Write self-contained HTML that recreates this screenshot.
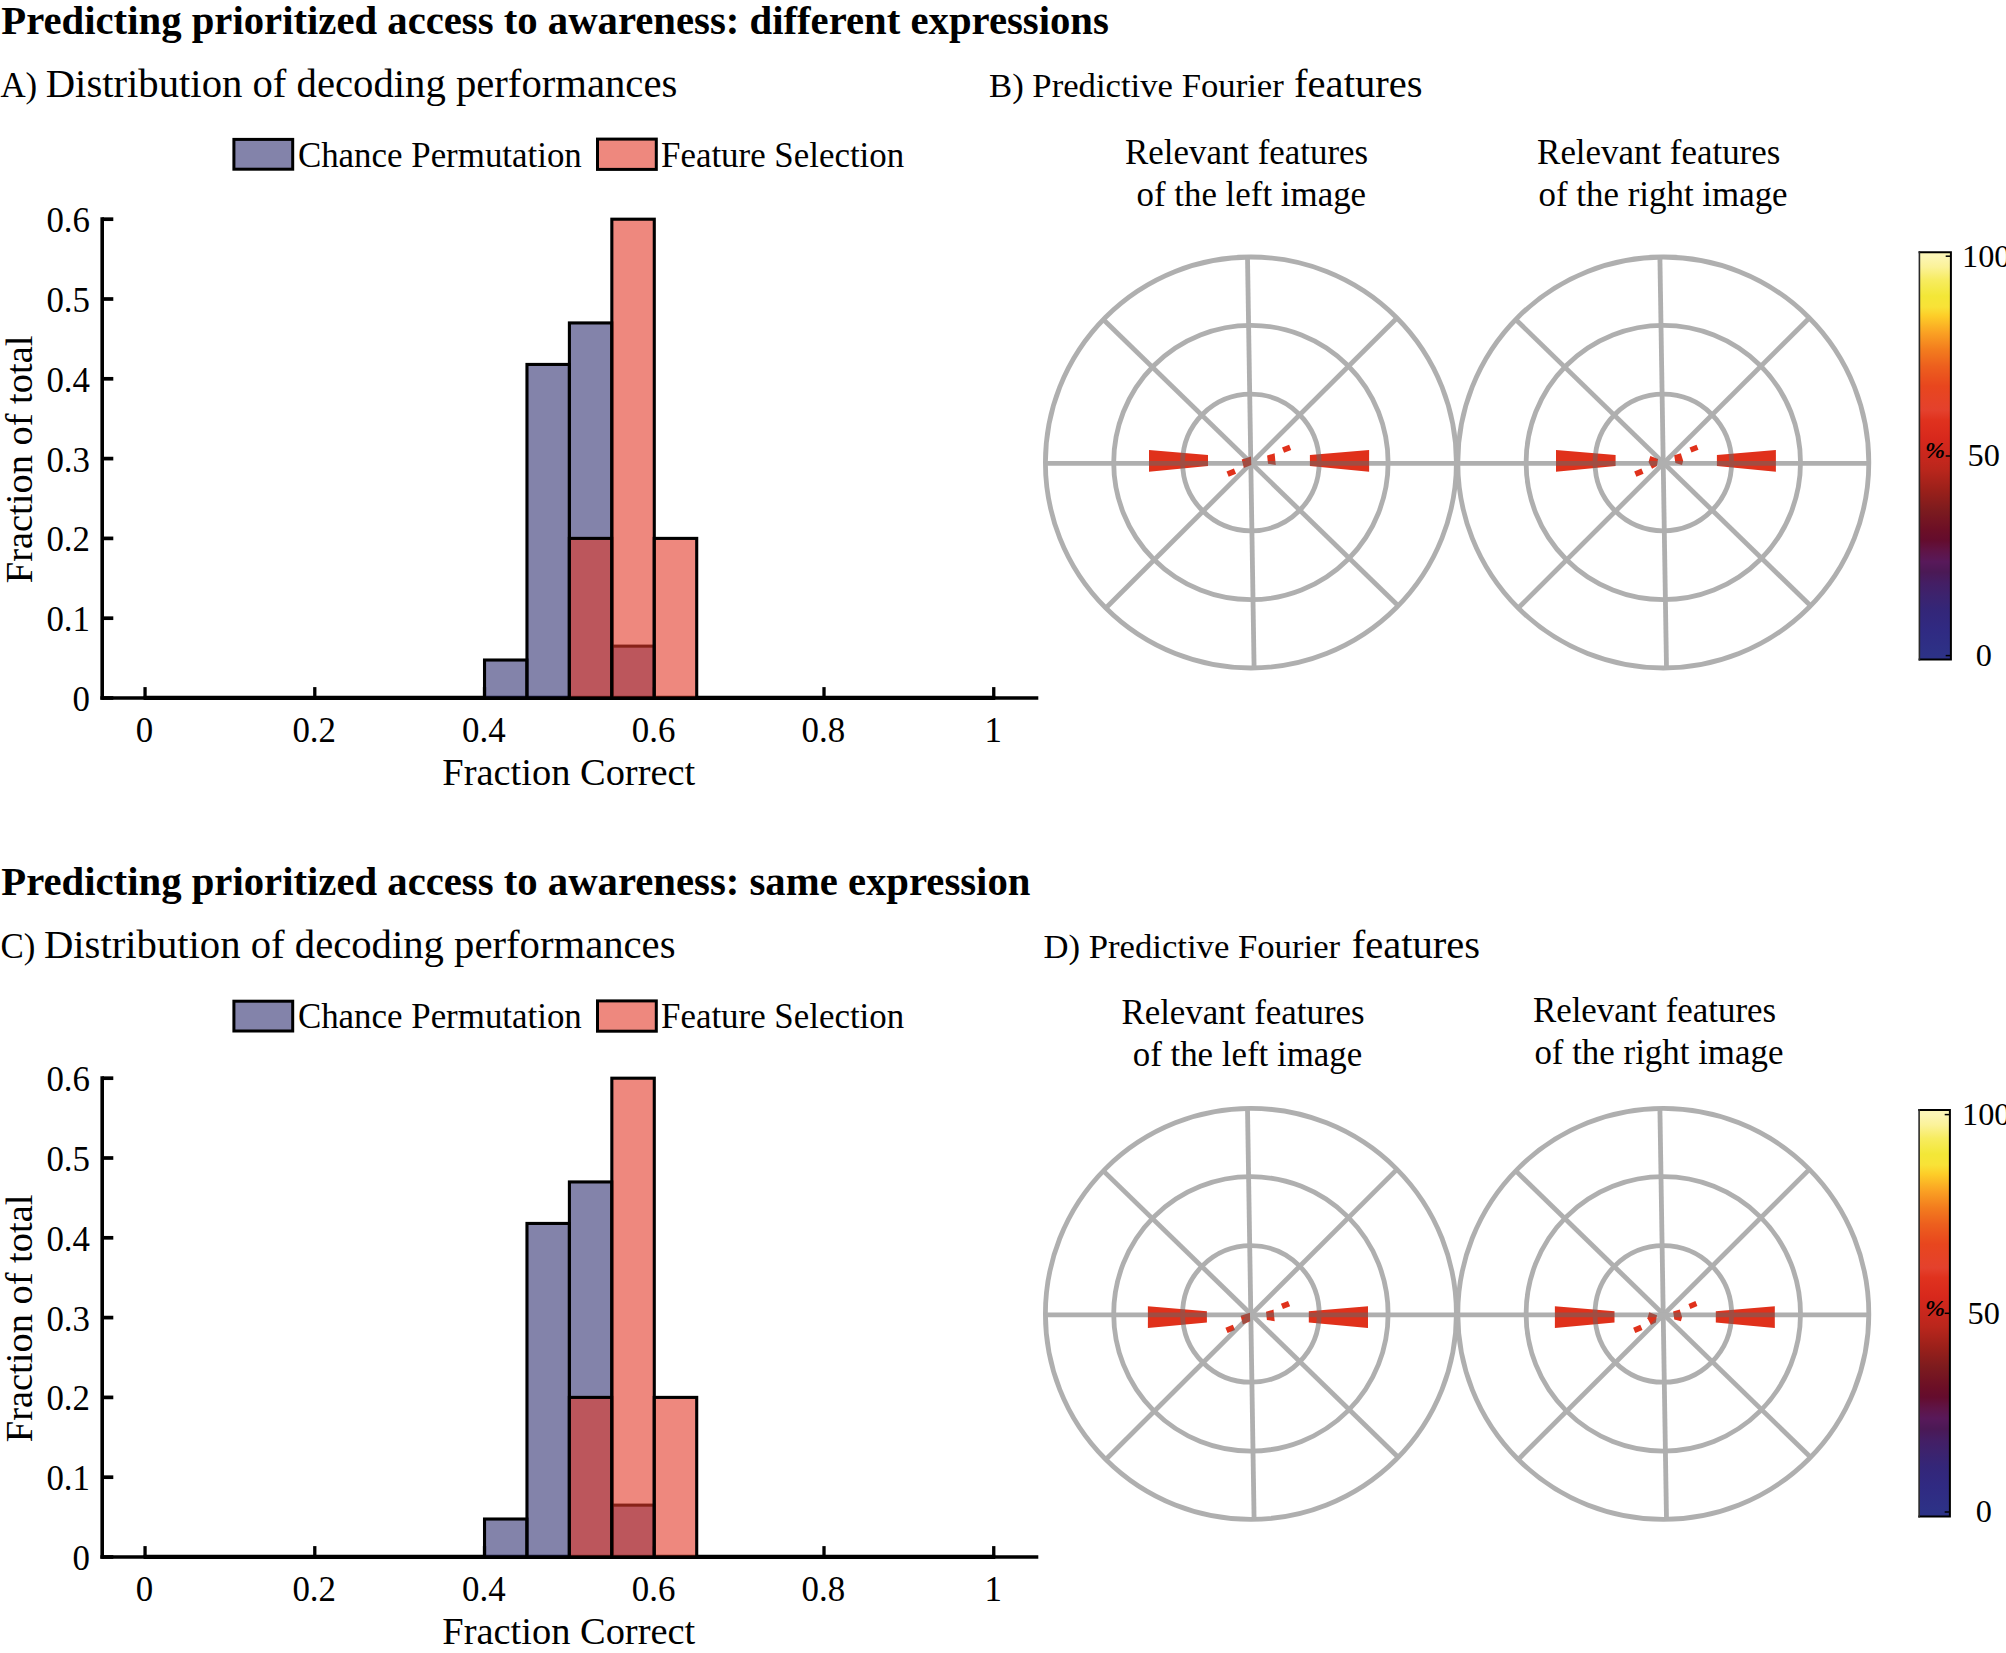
<!DOCTYPE html>
<html lang="en"><head><meta charset="utf-8"><title>Predicting prioritized access to awareness</title>
<style>html,body{margin:0;padding:0;background:#fff}body{width:2006px;height:1653px;overflow:hidden}svg text{white-space:pre}</style></head>
<body>
<svg width="2006" height="1653" viewBox="0 0 2006 1653" style="display:block;font-family:'Liberation Serif','DejaVu Serif',serif">
<rect width="2006" height="1653" fill="#fff"/>
<g style="font-family:'Liberation Serif','DejaVu Serif',serif" fill="#000">
<text x="1.30" y="34.40" font-size="40.73" text-anchor="start" font-weight="bold" font-style="normal" >Predicting prioritized access to awareness: different expressions</text>
<text x="0.40" y="97.20" font-size="34.9" text-anchor="start" font-weight="normal" font-style="normal" >A)</text>
<text x="45.70" y="97.20" font-size="40.7" text-anchor="start" font-weight="normal" font-style="normal" >Distribution of decoding performances</text>
<text x="989.00" y="96.80" font-size="34.7" text-anchor="start" font-weight="normal" font-style="normal" >B) Predictive Fourier</text>
<text x="1294.10" y="96.80" font-size="40.6" text-anchor="start" font-weight="normal" font-style="normal" >features</text>
<text x="1246.60" y="163.50" font-size="34.9" text-anchor="middle" font-weight="normal" font-style="normal" >Relevant features</text>
<text x="1251.30" y="205.80" font-size="34.9" text-anchor="middle" font-weight="normal" font-style="normal" >of the left image</text>
<text x="1658.70" y="163.50" font-size="34.9" text-anchor="middle" font-weight="normal" font-style="normal" >Relevant features</text>
<text x="1663.10" y="205.80" font-size="34.9" text-anchor="middle" font-weight="normal" font-style="normal" >of the right image</text>
<text x="1.30" y="895.30" font-size="40.73" text-anchor="start" font-weight="bold" font-style="normal" >Predicting prioritized access to awareness: same expression</text>
<text x="0.40" y="957.90" font-size="34.9" text-anchor="start" font-weight="normal" font-style="normal" >C)</text>
<text x="43.90" y="957.90" font-size="40.7" text-anchor="start" font-weight="normal" font-style="normal" >Distribution of decoding performances</text>
<text x="1043.40" y="957.80" font-size="34.7" text-anchor="start" font-weight="normal" font-style="normal" >D) Predictive Fourier</text>
<text x="1351.70" y="957.80" font-size="40.6" text-anchor="start" font-weight="normal" font-style="normal" >features</text>
<text x="1243.00" y="1024.20" font-size="34.9" text-anchor="middle" font-weight="normal" font-style="normal" >Relevant features</text>
<text x="1247.50" y="1065.80" font-size="34.9" text-anchor="middle" font-weight="normal" font-style="normal" >of the left image</text>
<text x="1654.50" y="1022.40" font-size="34.9" text-anchor="middle" font-weight="normal" font-style="normal" >Relevant features</text>
<text x="1658.90" y="1064.00" font-size="34.9" text-anchor="middle" font-weight="normal" font-style="normal" >of the right image</text>
</g>
<g stroke="#000" fill="none" stroke-linecap="butt">
<line x1="102.2" y1="217.30" x2="102.2" y2="699.80" stroke-width="3.6"/>
<line x1="100.4" y1="698.10" x2="1038.3" y2="698.10" stroke-width="3.5"/>
<line x1="102.2" y1="698.00" x2="113.3" y2="698.00" stroke-width="3.7"/>
<line x1="102.2" y1="618.20" x2="113.3" y2="618.20" stroke-width="3.7"/>
<line x1="102.2" y1="538.40" x2="113.3" y2="538.40" stroke-width="3.7"/>
<line x1="102.2" y1="458.60" x2="113.3" y2="458.60" stroke-width="3.7"/>
<line x1="102.2" y1="378.80" x2="113.3" y2="378.80" stroke-width="3.7"/>
<line x1="102.2" y1="299.00" x2="113.3" y2="299.00" stroke-width="3.7"/>
<line x1="102.2" y1="219.20" x2="113.3" y2="219.20" stroke-width="3.7"/>
<line x1="145.05" y1="698.00" x2="145.05" y2="687.10" stroke-width="3.3"/>
<line x1="314.79" y1="698.00" x2="314.79" y2="687.10" stroke-width="3.3"/>
<line x1="484.53" y1="698.00" x2="484.53" y2="687.10" stroke-width="3.3"/>
<line x1="654.27" y1="698.00" x2="654.27" y2="687.10" stroke-width="3.3"/>
<line x1="824.01" y1="698.00" x2="824.01" y2="687.10" stroke-width="3.3"/>
<line x1="993.75" y1="698.00" x2="993.75" y2="687.10" stroke-width="3.3"/>
</g>
<line x1="143.55" y1="697.85" x2="995.25" y2="697.85" stroke="#000" stroke-width="4.4"/>
<g stroke="#000" stroke-width="3.1" stroke-linejoin="miter">
<rect x="484.53" y="660.02" width="42.44" height="37.98" fill="rgb(48,48,113)" fill-opacity="0.6"/>
<rect x="526.97" y="364.44" width="42.44" height="333.56" fill="rgb(48,48,113)" fill-opacity="0.6"/>
<rect x="569.40" y="322.94" width="42.44" height="375.06" fill="rgb(48,48,113)" fill-opacity="0.6"/>
<rect x="611.84" y="646.13" width="42.44" height="51.87" fill="rgb(48,48,113)" fill-opacity="0.6"/>
</g>
<g opacity="1">
<rect x="569.40" y="538.40" width="42.44" height="159.60" fill="rgb(227,57,40)" fill-opacity="0.6" stroke="#000" stroke-width="3.1"/>
<rect x="611.84" y="219.20" width="42.44" height="478.80" fill="rgb(227,57,40)" fill-opacity="0.6" stroke="#000" stroke-width="3.1"/>
<rect x="654.27" y="538.40" width="42.44" height="159.60" fill="rgb(227,57,40)" fill-opacity="0.6" stroke="#000" stroke-width="3.1"/>
</g>
<g style="font-family:'Liberation Serif','DejaVu Serif',serif" fill="#000">
<text x="90.00" y="711.00" font-size="34.9" text-anchor="end" font-weight="normal" font-style="normal" >0</text>
<text x="90.00" y="631.20" font-size="34.9" text-anchor="end" font-weight="normal" font-style="normal" >0.1</text>
<text x="90.00" y="551.40" font-size="34.9" text-anchor="end" font-weight="normal" font-style="normal" >0.2</text>
<text x="90.00" y="471.60" font-size="34.9" text-anchor="end" font-weight="normal" font-style="normal" >0.3</text>
<text x="90.00" y="391.80" font-size="34.9" text-anchor="end" font-weight="normal" font-style="normal" >0.4</text>
<text x="90.00" y="312.00" font-size="34.9" text-anchor="end" font-weight="normal" font-style="normal" >0.5</text>
<text x="90.00" y="232.20" font-size="34.9" text-anchor="end" font-weight="normal" font-style="normal" >0.6</text>
<text x="144.45" y="741.50" font-size="34.9" text-anchor="middle" font-weight="normal" font-style="normal" >0</text>
<text x="314.19" y="741.50" font-size="34.9" text-anchor="middle" font-weight="normal" font-style="normal" >0.2</text>
<text x="483.93" y="741.50" font-size="34.9" text-anchor="middle" font-weight="normal" font-style="normal" >0.4</text>
<text x="653.67" y="741.50" font-size="34.9" text-anchor="middle" font-weight="normal" font-style="normal" >0.6</text>
<text x="823.41" y="741.50" font-size="34.9" text-anchor="middle" font-weight="normal" font-style="normal" >0.8</text>
<text x="993.15" y="741.50" font-size="34.9" text-anchor="middle" font-weight="normal" font-style="normal" >1</text>
<text x="568.80" y="784.90" font-size="38.45" text-anchor="middle" font-weight="normal" font-style="normal" >Fraction Correct</text>
<text transform="translate(31.9,459.40) rotate(-90)" font-size="38.45" text-anchor="middle">Fraction of total</text>
<rect x="233.9" y="139.40" width="58.8" height="29.8" fill="rgb(131,131,170)" stroke="#000" stroke-width="3"/>
<rect x="597.5" y="139.10" width="58.8" height="30.3" fill="rgb(238,136,126)" stroke="#000" stroke-width="3"/>
<text x="297.90" y="167.30" font-size="34.9" text-anchor="start" font-weight="normal" font-style="normal" >Chance Permutation</text>
<text x="661.00" y="167.30" font-size="34.9" text-anchor="start" font-weight="normal" font-style="normal" >Feature Selection</text>
</g>
<g stroke="#000" fill="none" stroke-linecap="butt">
<line x1="102.2" y1="1076.30" x2="102.2" y2="1558.80" stroke-width="3.6"/>
<line x1="100.4" y1="1557.10" x2="1038.3" y2="1557.10" stroke-width="3.5"/>
<line x1="102.2" y1="1557.00" x2="113.3" y2="1557.00" stroke-width="3.7"/>
<line x1="102.2" y1="1477.20" x2="113.3" y2="1477.20" stroke-width="3.7"/>
<line x1="102.2" y1="1397.40" x2="113.3" y2="1397.40" stroke-width="3.7"/>
<line x1="102.2" y1="1317.60" x2="113.3" y2="1317.60" stroke-width="3.7"/>
<line x1="102.2" y1="1237.80" x2="113.3" y2="1237.80" stroke-width="3.7"/>
<line x1="102.2" y1="1158.00" x2="113.3" y2="1158.00" stroke-width="3.7"/>
<line x1="102.2" y1="1078.20" x2="113.3" y2="1078.20" stroke-width="3.7"/>
<line x1="145.05" y1="1557.00" x2="145.05" y2="1546.10" stroke-width="3.3"/>
<line x1="314.79" y1="1557.00" x2="314.79" y2="1546.10" stroke-width="3.3"/>
<line x1="484.53" y1="1557.00" x2="484.53" y2="1546.10" stroke-width="3.3"/>
<line x1="654.27" y1="1557.00" x2="654.27" y2="1546.10" stroke-width="3.3"/>
<line x1="824.01" y1="1557.00" x2="824.01" y2="1546.10" stroke-width="3.3"/>
<line x1="993.75" y1="1557.00" x2="993.75" y2="1546.10" stroke-width="3.3"/>
</g>
<line x1="143.55" y1="1556.85" x2="995.25" y2="1556.85" stroke="#000" stroke-width="4.4"/>
<g stroke="#000" stroke-width="3.1" stroke-linejoin="miter">
<rect x="484.53" y="1519.02" width="42.44" height="37.98" fill="rgb(48,48,113)" fill-opacity="0.6"/>
<rect x="526.97" y="1223.44" width="42.44" height="333.56" fill="rgb(48,48,113)" fill-opacity="0.6"/>
<rect x="569.40" y="1181.94" width="42.44" height="375.06" fill="rgb(48,48,113)" fill-opacity="0.6"/>
<rect x="611.84" y="1505.13" width="42.44" height="51.87" fill="rgb(48,48,113)" fill-opacity="0.6"/>
</g>
<g opacity="1">
<rect x="569.40" y="1397.40" width="42.44" height="159.60" fill="rgb(227,57,40)" fill-opacity="0.6" stroke="#000" stroke-width="3.1"/>
<rect x="611.84" y="1078.20" width="42.44" height="478.80" fill="rgb(227,57,40)" fill-opacity="0.6" stroke="#000" stroke-width="3.1"/>
<rect x="654.27" y="1397.40" width="42.44" height="159.60" fill="rgb(227,57,40)" fill-opacity="0.6" stroke="#000" stroke-width="3.1"/>
</g>
<g style="font-family:'Liberation Serif','DejaVu Serif',serif" fill="#000">
<text x="90.00" y="1570.00" font-size="34.9" text-anchor="end" font-weight="normal" font-style="normal" >0</text>
<text x="90.00" y="1490.20" font-size="34.9" text-anchor="end" font-weight="normal" font-style="normal" >0.1</text>
<text x="90.00" y="1410.40" font-size="34.9" text-anchor="end" font-weight="normal" font-style="normal" >0.2</text>
<text x="90.00" y="1330.60" font-size="34.9" text-anchor="end" font-weight="normal" font-style="normal" >0.3</text>
<text x="90.00" y="1250.80" font-size="34.9" text-anchor="end" font-weight="normal" font-style="normal" >0.4</text>
<text x="90.00" y="1171.00" font-size="34.9" text-anchor="end" font-weight="normal" font-style="normal" >0.5</text>
<text x="90.00" y="1091.20" font-size="34.9" text-anchor="end" font-weight="normal" font-style="normal" >0.6</text>
<text x="144.45" y="1600.50" font-size="34.9" text-anchor="middle" font-weight="normal" font-style="normal" >0</text>
<text x="314.19" y="1600.50" font-size="34.9" text-anchor="middle" font-weight="normal" font-style="normal" >0.2</text>
<text x="483.93" y="1600.50" font-size="34.9" text-anchor="middle" font-weight="normal" font-style="normal" >0.4</text>
<text x="653.67" y="1600.50" font-size="34.9" text-anchor="middle" font-weight="normal" font-style="normal" >0.6</text>
<text x="823.41" y="1600.50" font-size="34.9" text-anchor="middle" font-weight="normal" font-style="normal" >0.8</text>
<text x="993.15" y="1600.50" font-size="34.9" text-anchor="middle" font-weight="normal" font-style="normal" >1</text>
<text x="568.80" y="1643.90" font-size="38.45" text-anchor="middle" font-weight="normal" font-style="normal" >Fraction Correct</text>
<text transform="translate(31.9,1318.40) rotate(-90)" font-size="38.45" text-anchor="middle">Fraction of total</text>
<rect x="233.9" y="1001.20" width="58.8" height="29.8" fill="rgb(131,131,170)" stroke="#000" stroke-width="3"/>
<rect x="597.5" y="1000.90" width="58.8" height="30.3" fill="rgb(238,136,126)" stroke="#000" stroke-width="3"/>
<text x="297.90" y="1027.60" font-size="34.9" text-anchor="start" font-weight="normal" font-style="normal" >Chance Permutation</text>
<text x="661.00" y="1027.60" font-size="34.9" text-anchor="start" font-weight="normal" font-style="normal" >Feature Selection</text>
</g>
<g fill="rgb(224,49,27)">
<polygon points="1149.0,449.9 1208.0,454.9 1208.0,466.1 1149.0,471.8"/>
<polygon points="1309.9,454.9 1369.1,449.9 1369.1,471.8 1309.9,466.1"/>
<polygon points="1241.7,459.5 1251.0,456.5 1251.3,464.9 1243.9,468.1"/>
<polygon points="1267.1,455.5 1274.6,453.3 1275.8,464.9 1268.0,463.7"/>
<polygon points="1282.0,447.5 1289.1,444.7 1291.2,449.9 1284.1,452.7"/>
<polygon points="1226.5,471.4 1233.9,468.4 1236.1,473.8 1228.7,476.8"/>
</g>
<g fill="rgb(224,49,27)">
<polygon points="1556.0,449.9 1615.6,454.9 1615.6,466.1 1556.0,471.8"/>
<polygon points="1716.9,454.9 1775.9,449.9 1775.9,471.8 1716.9,466.1"/>
<polygon points="1650.3,455.9 1658.1,458.9 1656.9,466.1 1652.1,468.8 1648.5,461.9"/>
<polygon points="1674.2,455.3 1680.8,453.3 1683.2,460.7 1682.0,464.9 1675.4,463.1"/>
<polygon points="1689.5,447.6 1696.5,444.8 1698.5,449.8 1691.5,452.6"/>
<polygon points="1634.2,471.4 1641.4,468.5 1643.6,473.8 1636.4,476.7"/>
</g>
<g stroke="rgb(103,103,103)" opacity="0.52" fill="none" stroke-width="4.8">
<circle cx="1250.90" cy="462.50" r="68.3"/>
<circle cx="1250.90" cy="462.50" r="137.2"/>
<circle cx="1250.90" cy="462.50" r="205.5"/>
<line x1="1247.5" y1="257.0" x2="1254.1" y2="668.0"/>
<line x1="1104.6" y1="320.7" x2="1397.7" y2="605.3"/>
<line x1="1396.7" y1="318.2" x2="1106.6" y2="607.3"/>
<circle cx="1663.30" cy="462.50" r="68.3"/>
<circle cx="1663.30" cy="462.50" r="137.2"/>
<circle cx="1663.30" cy="462.50" r="205.5"/>
<line x1="1659.9" y1="257.0" x2="1666.5" y2="668.0"/>
<line x1="1517.0" y1="320.7" x2="1810.1" y2="605.3"/>
<line x1="1809.1" y1="318.2" x2="1519.0" y2="607.3"/>
<line x1="1045.3" y1="463.4" x2="1868.6" y2="463.4"/>
</g>
<g fill="rgb(224,49,27)">
<polygon points="1147.9,1306.2 1206.9,1311.2 1206.9,1322.4 1147.9,1328.1"/>
<polygon points="1308.8,1311.2 1368.0,1306.2 1368.0,1328.1 1308.8,1322.4"/>
<polygon points="1240.6,1315.8 1249.9,1312.8 1250.2,1321.2 1242.8,1324.4"/>
<polygon points="1266.0,1311.8 1273.5,1309.6 1274.7,1321.2 1266.9,1320.0"/>
<polygon points="1280.9,1303.8 1288.0,1301.0 1290.1,1306.2 1283.0,1309.0"/>
<polygon points="1225.4,1327.7 1232.8,1324.7 1235.0,1330.1 1227.6,1333.1"/>
</g>
<g fill="rgb(224,49,27)">
<polygon points="1554.9,1306.2 1614.5,1311.2 1614.5,1322.4 1554.9,1328.1"/>
<polygon points="1715.8,1311.2 1774.8,1306.2 1774.8,1328.1 1715.8,1322.4"/>
<polygon points="1649.2,1312.2 1657.0,1315.2 1655.8,1322.4 1651.0,1325.1 1647.4,1318.2"/>
<polygon points="1673.1,1311.6 1679.7,1309.6 1682.1,1317.0 1680.9,1321.2 1674.3,1319.4"/>
<polygon points="1688.4,1303.9 1695.4,1301.1 1697.4,1306.1 1690.4,1308.9"/>
<polygon points="1633.1,1327.7 1640.3,1324.8 1642.5,1330.1 1635.3,1333.0"/>
</g>
<g stroke="rgb(103,103,103)" opacity="0.52" fill="none" stroke-width="4.8">
<circle cx="1250.90" cy="1313.90" r="68.3"/>
<circle cx="1250.90" cy="1313.90" r="137.2"/>
<circle cx="1250.90" cy="1313.90" r="205.5"/>
<line x1="1247.5" y1="1108.4" x2="1254.1" y2="1519.4"/>
<line x1="1104.6" y1="1172.1" x2="1397.7" y2="1456.7"/>
<line x1="1396.7" y1="1169.6" x2="1106.6" y2="1458.7"/>
<circle cx="1663.30" cy="1313.90" r="68.3"/>
<circle cx="1663.30" cy="1313.90" r="137.2"/>
<circle cx="1663.30" cy="1313.90" r="205.5"/>
<line x1="1659.9" y1="1108.4" x2="1666.5" y2="1519.4"/>
<line x1="1517.0" y1="1172.1" x2="1810.1" y2="1456.7"/>
<line x1="1809.1" y1="1169.6" x2="1519.0" y2="1458.7"/>
<line x1="1045.3" y1="1314.8" x2="1868.6" y2="1314.8"/>
</g>
<defs><linearGradient id="cb1" x1="0" y1="256.2" x2="0" y2="655.6" gradientUnits="userSpaceOnUse">
<stop offset="0.0000" stop-color="rgb(252,246,182)"/>
<stop offset="0.0270" stop-color="rgb(251,242,152)"/>
<stop offset="0.0600" stop-color="rgb(247,236,95)"/>
<stop offset="0.1000" stop-color="rgb(243,231,55)"/>
<stop offset="0.1270" stop-color="rgb(249,226,55)"/>
<stop offset="0.1500" stop-color="rgb(253,205,40)"/>
<stop offset="0.1930" stop-color="rgb(250,160,35)"/>
<stop offset="0.2330" stop-color="rgb(243,125,30)"/>
<stop offset="0.2760" stop-color="rgb(237,95,30)"/>
<stop offset="0.3260" stop-color="rgb(232,70,30)"/>
<stop offset="0.3860" stop-color="rgb(228,65,45)"/>
<stop offset="0.4100" stop-color="rgb(224,50,30)"/>
<stop offset="0.4600" stop-color="rgb(215,40,28)"/>
<stop offset="0.5040" stop-color="rgb(198,39,29)"/>
<stop offset="0.5350" stop-color="rgb(185,38,28)"/>
<stop offset="0.5850" stop-color="rgb(155,32,26)"/>
<stop offset="0.6350" stop-color="rgb(125,27,30)"/>
<stop offset="0.6850" stop-color="rgb(108,15,38)"/>
<stop offset="0.7110" stop-color="rgb(100,12,45)"/>
<stop offset="0.7380" stop-color="rgb(95,20,70)"/>
<stop offset="0.7650" stop-color="rgb(88,25,90)"/>
<stop offset="0.7910" stop-color="rgb(75,25,85)"/>
<stop offset="0.8180" stop-color="rgb(68,30,100)"/>
<stop offset="0.8510" stop-color="rgb(60,35,110)"/>
<stop offset="0.8850" stop-color="rgb(52,38,120)"/>
<stop offset="0.9350" stop-color="rgb(48,42,130)"/>
<stop offset="1.0000" stop-color="rgb(45,50,135)"/>
</linearGradient></defs>
<rect x="1919.4" y="252.3" width="31.5" height="407.1" fill="url(#cb1)"/>
<path d="M1918.6,252.3 H1950.9 V659.4 H1918.6" fill="none" stroke="#000" stroke-width="2"/>
<line x1="1919.4" y1="251.3" x2="1919.4" y2="660.4" stroke="#2b2b2b" stroke-width="1.6"/>
<line x1="1945.7" y1="256.2" x2="1950.9" y2="256.2" stroke="#000" stroke-width="1.5"/>
<line x1="1945.7" y1="456.0" x2="1950.9" y2="456.0" stroke="#000" stroke-width="1.5"/>
<line x1="1945.7" y1="655.6" x2="1950.9" y2="655.6" stroke="#000" stroke-width="1.5"/>
<g style="font-family:'Liberation Serif','DejaVu Serif',serif" fill="#000">
<text x="1962.00" y="267.00" font-size="32.3" text-anchor="start" font-weight="normal" font-style="normal" >100</text>
<text x="1967.60" y="465.80" font-size="32.3" text-anchor="start" font-weight="normal" font-style="normal" >50</text>
<text x="1975.80" y="665.70" font-size="32.3" text-anchor="start" font-weight="normal" font-style="normal" >0</text>
<text x="1925.00" y="458.40" font-size="24" text-anchor="start" font-weight="bold" font-style="italic" >%</text>
</g>
<defs><linearGradient id="cb2" x1="0" y1="1114.6" x2="0" y2="1512.0" gradientUnits="userSpaceOnUse">
<stop offset="0.0000" stop-color="rgb(252,246,182)"/>
<stop offset="0.0270" stop-color="rgb(251,242,152)"/>
<stop offset="0.0600" stop-color="rgb(247,236,95)"/>
<stop offset="0.1000" stop-color="rgb(243,231,55)"/>
<stop offset="0.1270" stop-color="rgb(249,226,55)"/>
<stop offset="0.1500" stop-color="rgb(253,205,40)"/>
<stop offset="0.1930" stop-color="rgb(250,160,35)"/>
<stop offset="0.2330" stop-color="rgb(243,125,30)"/>
<stop offset="0.2760" stop-color="rgb(237,95,30)"/>
<stop offset="0.3260" stop-color="rgb(232,70,30)"/>
<stop offset="0.3860" stop-color="rgb(228,65,45)"/>
<stop offset="0.4100" stop-color="rgb(224,50,30)"/>
<stop offset="0.4600" stop-color="rgb(215,40,28)"/>
<stop offset="0.5040" stop-color="rgb(198,39,29)"/>
<stop offset="0.5350" stop-color="rgb(185,38,28)"/>
<stop offset="0.5850" stop-color="rgb(155,32,26)"/>
<stop offset="0.6350" stop-color="rgb(125,27,30)"/>
<stop offset="0.6850" stop-color="rgb(108,15,38)"/>
<stop offset="0.7110" stop-color="rgb(100,12,45)"/>
<stop offset="0.7380" stop-color="rgb(95,20,70)"/>
<stop offset="0.7650" stop-color="rgb(88,25,90)"/>
<stop offset="0.7910" stop-color="rgb(75,25,85)"/>
<stop offset="0.8180" stop-color="rgb(68,30,100)"/>
<stop offset="0.8510" stop-color="rgb(60,35,110)"/>
<stop offset="0.8850" stop-color="rgb(52,38,120)"/>
<stop offset="0.9350" stop-color="rgb(48,42,130)"/>
<stop offset="1.0000" stop-color="rgb(45,50,135)"/>
</linearGradient></defs>
<rect x="1919.1" y="1110.0" width="30.8" height="406.4" fill="url(#cb2)"/>
<path d="M1918.3,1110.0 H1949.9 V1516.4 H1918.3" fill="none" stroke="#000" stroke-width="2"/>
<line x1="1919.1" y1="1109.0" x2="1919.1" y2="1517.4" stroke="#2b2b2b" stroke-width="1.6"/>
<line x1="1944.7" y1="1114.6" x2="1949.9" y2="1114.6" stroke="#000" stroke-width="1.5"/>
<line x1="1944.7" y1="1313.3" x2="1949.9" y2="1313.3" stroke="#000" stroke-width="1.5"/>
<line x1="1944.7" y1="1512.0" x2="1949.9" y2="1512.0" stroke="#000" stroke-width="1.5"/>
<g style="font-family:'Liberation Serif','DejaVu Serif',serif" fill="#000">
<text x="1962.00" y="1124.60" font-size="32.3" text-anchor="start" font-weight="normal" font-style="normal" >100</text>
<text x="1967.60" y="1323.60" font-size="32.3" text-anchor="start" font-weight="normal" font-style="normal" >50</text>
<text x="1975.80" y="1522.00" font-size="32.3" text-anchor="start" font-weight="normal" font-style="normal" >0</text>
<text x="1925.00" y="1315.70" font-size="24" text-anchor="start" font-weight="bold" font-style="italic" >%</text>
</g>
</svg>
</body></html>
